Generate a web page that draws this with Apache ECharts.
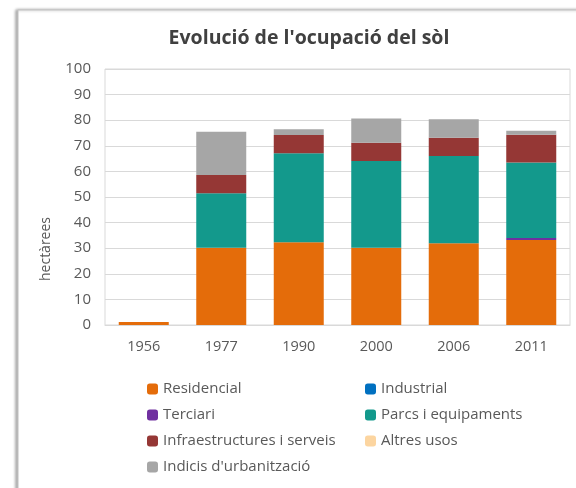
<!DOCTYPE html>
<html>
<head>
    <meta charset="utf-8">
    <title>Evolució de l'ocupació del sòl</title>
    <script type="text/javascript" src="https://cdn.jsdelivr.net/npm/echarts@6/dist/echarts.min.js"></script>
    <style>
        html, body { margin: 0; padding: 0; background: #fff; }
    </style>
</head>
<body>
    <div id="main" style="width: 576px;height:488px;"></div>

    <script type="text/javascript">
        // dades (hectàrees)
        var anys = ['1956', '1977', '1990', '2000', '2006', '2011'];
        var residencial = [1.2, 30.2, 32.3, 30.2, 31.9, 33.2];
        var industrial = [0, 0, 0, 0, 0, 0];
        var terciari = [0, 0, 0, 0, 0, 0.8];
        var parcs = [0, 21.3, 34.8, 33.9, 34.1, 29.5];
        var infra = [0, 7.1, 7.1, 7.1, 7.1, 10.8];
        var altres = [0, 0, 0, 0, 0, 0];
        var indicis = [0, 16.9, 2.3, 9.5, 7.3, 1.6];
        var yTicks = [0, 10, 20, 30, 40, 50, 60, 70, 80, 90, 100];

        var font = 'Open Sans';
        var gris = '#595959';

        var myChart = echarts.init(document.getElementById('main'));

        function serie(nom, dades, color) {
            return {
                name: nom,
                type: 'bar',
                stack: 'total',
                barWidth: 50,
                data: dades,
                itemStyle: { color: color },
                emphasis: { disabled: true }
            };
        }

        var legendText = { color: gris, fontSize: 15, fontFamily: font, lineHeight: 16 };

        var option = {
            animation: false,
            textStyle: { fontFamily: font },
            graphic: [{
                type: 'rect',
                shape: { x: 18, y: 10, width: 620, height: 520 },
                style: { fill: '#fff', stroke: '#c4c4c4', lineWidth: 1,
                         shadowColor: 'rgba(0,0,0,0.35)', shadowBlur: 3, shadowOffsetX: -2 },
                z: -10
            }],
            title: {
                text: "Evolució de l'ocupació del sòl",
                left: 304,
                textAlign: 'center',
                top: 23,
                textStyle: { color: '#404040', fontSize: 19.5, fontWeight: 'bold', fontFamily: font }
            },
            legend: [{
                orient: 'vertical',
                left: 142,
                top: 376,
                itemWidth: 11,
                itemHeight: 11,
                itemGap: 10,
                textStyle: legendText,
                data: ['Residencial', 'Terciari', 'Infraestructures i serveis', "Indicis d'urbanització"]
            }, {
                orient: 'vertical',
                left: 360,
                top: 376,
                itemWidth: 11,
                itemHeight: 11,
                itemGap: 10,
                textStyle: legendText,
                data: ['Industrial', 'Parcs i equipaments', 'Altres usos']
            }],
            grid: {
                left: 105,
                right: 6,
                top: 69,
                bottom: 163,
                show: true,
                borderColor: '#d9d9d9',
                borderWidth: 1
            },
            xAxis: {
                type: 'category',
                data: anys,
                axisLine: { lineStyle: { color: '#d9d9d9' } },
                axisTick: { show: false },
                axisLabel: { color: gris, fontSize: 14.5, margin: 14, fontFamily: font }
            },
            yAxis: {
                type: 'value',
                min: yTicks[0],
                max: yTicks[yTicks.length - 1],
                interval: 10,
                name: 'hectàrees',
                nameLocation: 'middle',
                nameRotate: 90,
                nameGap: 52,
                nameTextStyle: { color: gris, fontSize: 14, fontFamily: font, padding: [0, 104, 0, 0] },
                axisLine: { show: false },
                axisTick: { show: false },
                axisLabel: { color: gris, fontSize: 15, margin: 14, fontFamily: font },
                splitLine: { lineStyle: { color: '#d9d9d9' } }
            },
            series: [
                serie('Residencial', residencial, '#E46C0A'),
                serie('Industrial', industrial, '#0070C0'),
                serie('Terciari', terciari, '#7030A0'),
                serie('Parcs i equipaments', parcs, '#13998C'),
                serie('Infraestructures i serveis', infra, '#953735'),
                serie('Altres usos', altres, '#FCD5A0'),
                serie("Indicis d'urbanització", indicis, '#A6A6A6')
            ]
        };

        myChart.setOption(option);
    </script>
</body>
</html>
